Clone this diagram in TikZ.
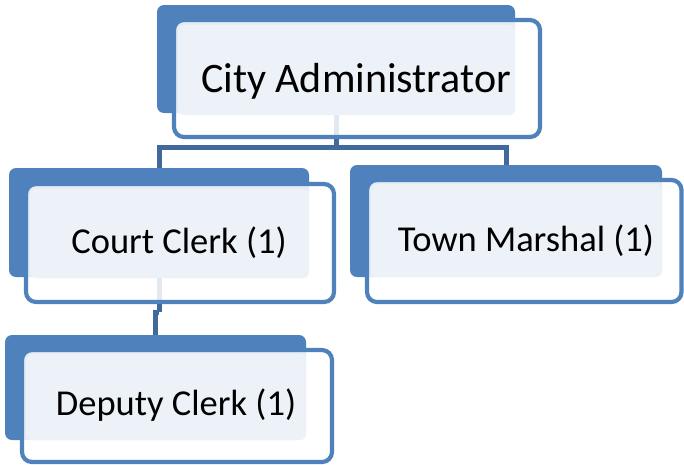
\documentclass[tikz,border=0pt]{standalone}
\usepackage{fontspec}
\setmainfont{Carlito}
\definecolor{accent}{HTML}{4F81BD}
\definecolor{linkblue}{HTML}{41699C}
\definecolor{paneltint}{HTML}{EDF1F8}
\pgfdeclarelayer{backdrop}
\pgfdeclarelayer{links}
\pgfsetlayers{backdrop,links,main}
\tikzset{
  backtab/.style={rectangle, inner sep=0pt, outer sep=0pt, fill=accent, rounded corners=7pt},
  frame/.style={rectangle, inner sep=0pt, outer sep=0pt, draw=accent, line width=4.2pt,
                fill=white, fill opacity=0.85, rounded corners=10pt},
  panel/.style={rectangle, inner sep=0pt, outer sep=0pt, fill=paneltint, rounded corners=6pt},
  caption/.style={inner sep=0pt, anchor=base, text=black},
  link/.style={draw=linkblue, line width=5pt},
}
\begin{document}
\begin{tikzpicture}[x=1pt, y=-1pt]
\useasboundingbox (0,0) rectangle (684,464);

% ---- back tabs ----
\begin{pgfonlayer}{backdrop}
\node[backtab, minimum width=358pt, minimum height=108pt] (caB) at (336,59) {};
\node[backtab, minimum width=300pt, minimum height=109pt] (ccB) at (159,222.5) {};
\node[backtab, minimum width=312pt, minimum height=112pt] (tmB) at (506,221) {};
\node[backtab, minimum width=301pt, minimum height=105pt] (dcB) at (155.5,387.5) {};
\end{pgfonlayer}

% ---- outlined fronts and tinted text panels ----
\node[frame, minimum width=366pt, minimum height=117pt] (caF) at (357,78.5) {};
\node[panel, minimum width=337pt, minimum height=90pt] (caP) at (346.5,70) {};
\node[caption, font=\fontsize{42}{48}\selectfont] (caT) at (356,92) {City Administrator};

\node[frame, minimum width=308pt, minimum height=118pt] (ccF) at (180,243) {};
\node[panel, minimum width=279pt, minimum height=89pt] (ccP) at (169.5,233.5) {};
\node[caption, font=\fontsize{36.5}{42}\selectfont] (ccT) at (179,253) {Court Clerk (1)};

\node[frame, minimum width=314.5pt, minimum height=122pt] (tmF) at (524.25,241) {};
\node[panel, minimum width=291pt, minimum height=93pt] (tmP) at (516.5,230.5) {};
\node[caption, font=\fontsize{36.5}{42}\selectfont] (tmT) at (526,251.7) {Town Marshal (1)};

\node[frame, minimum width=310pt, minimum height=112pt] (dcF) at (177,406) {};
\node[panel, minimum width=280pt, minimum height=86pt] (dcP) at (166,397) {};
\node[caption, font=\fontsize{36.5}{42}\selectfont] (dcT) at (176,415) {Deputy Clerk (1)};

% ---- connectors ----
\begin{pgfonlayer}{links}
\draw[link] (caB.south) -- ++(0,34) coordinate (hub);
\draw[link] (hub) -| (ccB.north);
\draw[link] (hub) -| (tmB.north);
\draw[link] (ccB.south) -- ++(0,35) coordinate (bend);
\draw[link] (bend) -| (dcB.north);
\end{pgfonlayer}
\end{tikzpicture}
\end{document}
